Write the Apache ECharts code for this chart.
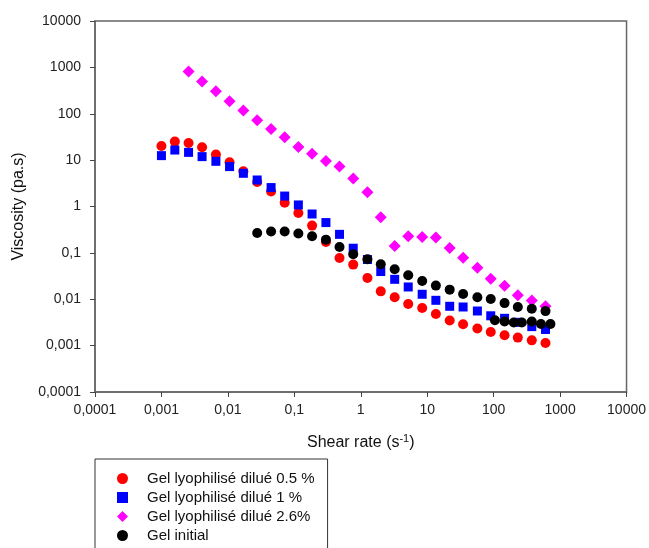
<!DOCTYPE html>
<html>
<head>
<meta charset="utf-8">
<script src="https://cdn.jsdelivr.net/npm/echarts@6/dist/echarts.min.js"></script>
<style>
html,body{margin:0;padding:0;background:#fff;}
#chart{width:649px;height:548px;}
</style>
</head>
<body>
<div id="chart"></div>
<script>
// Shared shear-rate grid (s^-1)
var shearRate = [0.001, 0.00159, 0.00256, 0.00409, 0.0066, 0.0106, 0.0171, 0.0276, 0.0447, 0.0716,
  0.115, 0.185, 0.299, 0.479, 0.77, 1.26, 2.0, 3.24, 5.18, 8.4,
  13.5, 21.8, 34.7, 56.9, 90.4, 146, 231, 375, 603];

// Gel lyophilisé dilué 0.5 % (all 29 rates)
var visc05 = [20.2, 25.1, 23.4, 18.9, 13.2, 8.98, 5.74, 3.38, 2.10, 1.21,
  0.724, 0.387, 0.172, 0.0775, 0.0558, 0.0287, 0.0148, 0.0110, 0.00791, 0.00647,
  0.00481, 0.00347, 0.00288, 0.00233, 0.00197, 0.00167, 0.00149, 0.00130, 0.00114];

// Gel lyophilisé dilué 1 % (all 29 rates)
var visc1 = [12.5, 16.5, 14.7, 11.9, 9.43, 7.25, 5.20, 3.73, 2.56, 1.68,
  1.08, 0.689, 0.450, 0.251, 0.126, 0.0720, 0.0396, 0.0269, 0.0184, 0.0128,
  0.00949, 0.00705, 0.00681, 0.00558, 0.00440, 0.00388, 0.00318, 0.00257, 0.00223];

// Gel lyophilisé dilué 2.6% (starts at the 3rd rate)
var visc26Start = 2;
var visc26 = [811, 493, 305, 185, 117, 72.2, 46.9, 31.1, 19.2, 13.8,
  9.57, 7.25, 4.0, 2.02, 0.585, 0.141, 0.228, 0.219, 0.215, 0.127,
  0.0783, 0.0477, 0.0276, 0.0195, 0.0122, 0.0094, 0.00705];

// Gel initial (starts at the 8th rate)
var viscInitStart = 7;
var viscInit = [0.268, 0.288, 0.288, 0.261, 0.228, 0.193, 0.134, 0.0931, 0.0727, 0.0567,
  0.0443, 0.0328, 0.0247, 0.0197, 0.0161, 0.0130, 0.0110, 0.0101, 0.00826, 0.00681,
  0.00622, 0.00555];
// Gel initial, second run at high rates
var initHighRate = [104.5, 146, 201, 266, 375, 515, 716];
var initHighVisc = [0.00352, 0.00330, 0.00315, 0.00315, 0.00330, 0.00292, 0.00292];

var seriesNames = ['Gel lyophilisé dilué 0.5 %', 'Gel lyophilisé dilué 1 %', 'Gel lyophilisé dilué 2.6%', 'Gel initial'];
var seriesColors = ['#ff0000', '#0000ff', '#ff00ff', '#000000'];

// Tick labels for exponents -4 .. 4
var tickLabels = ['0,0001', '0,001', '0,01', '0,1', '1', '10', '100', '1000', '10000'];

function pairs(xs, ys, start) {
  var out = [];
  for (var i = 0; i < ys.length; i++) out.push([xs[start + i], ys[i]]);
  return out;
}
function fmt(v) {
  var e = Math.round(Math.log(v) / Math.LN10);
  return tickLabels[e + 4] || '';
}

var FONT = '"Liberation Sans", Arial, sans-serif';
var chart = echarts.init(document.getElementById('chart'), null, {renderer: 'canvas'});

var axisCommon = {
  type: 'log', logBase: 10, min: 0.0001, max: 10000, splitNumber: 8,
  axisLine: {show: true, lineStyle: {color: '#666', width: 1.5}},
  axisTick: {show: true, inside: false, length: 5, lineStyle: {color: '#444', width: 1}},
  minorTick: {show: false},
  splitLine: {show: false},
  axisLabel: {formatter: fmt, color: '#222', fontSize: 14, fontFamily: FONT},
  nameLocation: 'middle'
};

var initData = pairs(shearRate, viscInit, viscInitStart);
for (var k = 0; k < initHighRate.length; k++) initData.push([initHighRate[k], initHighVisc[k]]);

chart.setOption({
  animation: false,
  backgroundColor: '#fff',
  grid: {left: 95, top: 21, right: 21, bottom: 156, show: true, borderColor: '#666', borderWidth: 1.5},
  xAxis: Object.assign({}, axisCommon, {
    axisLabel: Object.assign({}, axisCommon.axisLabel, {margin: 11}),
    name: 'Shear rate (s{sup|-1})',
    nameGap: 41,
    nameTextStyle: {fontSize: 16, color: '#111', fontFamily: FONT, lineHeight: 20,
      rich: {sup: {fontSize: 11, verticalAlign: 'top', fontFamily: FONT, color: '#111'}}}
  }),
  yAxis: Object.assign({}, axisCommon, {
    axisLabel: Object.assign({}, axisCommon.axisLabel, {margin: 14}),
    name: 'Viscosity (pa.s)',
    nameGap: 68,
    nameTextStyle: {fontSize: 16, color: '#111', fontFamily: FONT}
  }),
  legend: {
    show: true,
    orient: 'vertical',
    left: 95, top: 459, height: 120,
    padding: [12, 13, 12, 22],
    borderColor: '#333', borderWidth: 1,
    itemWidth: 11, itemHeight: 11, itemGap: 4,
    textStyle: {fontSize: 15, color: '#111', fontFamily: FONT, padding: [0, 0, 0, 14], lineHeight: 15},
    data: [
      {name: seriesNames[0], icon: 'circle'},
      {name: seriesNames[1], icon: 'rect'},
      {name: seriesNames[2], icon: 'diamond'},
      {name: seriesNames[3], icon: 'circle'}
    ]
  },
  series: [
    {type: 'scatter', name: seriesNames[0], symbol: 'circle', symbolSize: 10,
     itemStyle: {color: seriesColors[0], opacity: 1}, data: pairs(shearRate, visc05, 0)},
    {type: 'scatter', name: seriesNames[1], symbol: 'rect', symbolSize: 9,
     itemStyle: {color: seriesColors[1], opacity: 1}, data: pairs(shearRate, visc1, 0)},
    {type: 'scatter', name: seriesNames[2], symbol: 'diamond', symbolSize: 12,
     itemStyle: {color: seriesColors[2], opacity: 1}, data: pairs(shearRate, visc26, visc26Start)},
    {type: 'scatter', name: seriesNames[3], symbol: 'circle', symbolSize: 10,
     itemStyle: {color: seriesColors[3], opacity: 1}, data: initData}
  ]
});
</script>
</body>
</html>
